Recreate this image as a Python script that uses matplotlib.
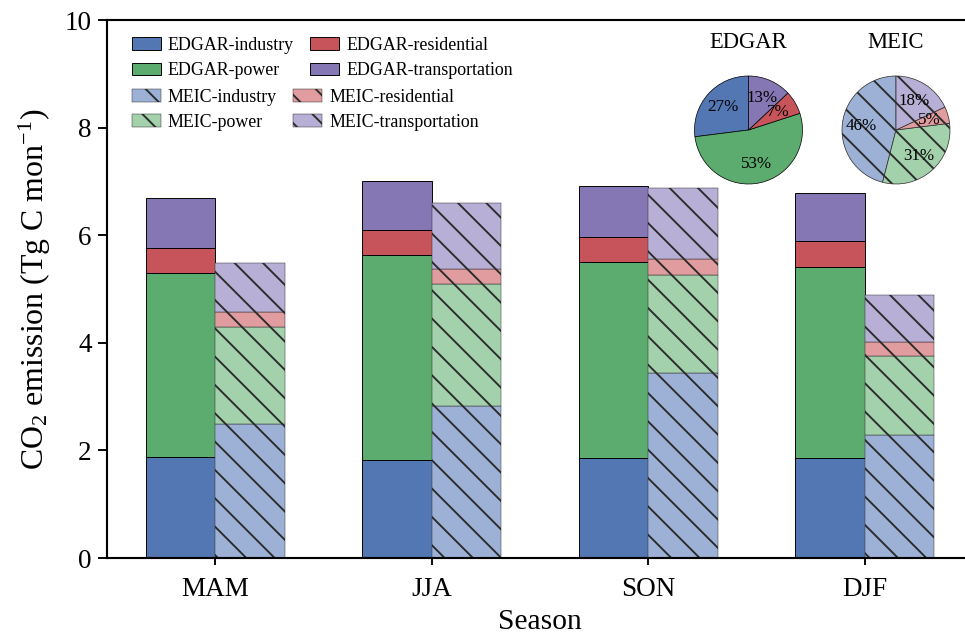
import matplotlib
matplotlib.use('Agg')
import matplotlib.pyplot as plt
import numpy as np

# seasonal CO2 emission by sector (Tg C per month)
seasons = ['MAM', 'JJA', 'SON', 'DJF']
edgar_industry = [1.88, 1.82, 1.86, 1.85]
edgar_power = [3.41, 3.81, 3.64, 3.56]
edgar_residential = [0.47, 0.46, 0.46, 0.48]
edgar_transport = [0.94, 0.92, 0.95, 0.89]
meic_industry = [2.50, 2.83, 3.43, 2.28]
meic_power = [1.79, 2.26, 1.83, 1.47]
meic_residential = [0.28, 0.28, 0.29, 0.26]
meic_transport = [0.91, 1.23, 1.32, 0.88]
# annual sector shares (%), industry / power / residential / transportation
edgar_share = [27, 53, 7, 13]
meic_share = [46, 31, 5, 18]
sectors = ['industry', 'power', 'residential', 'transportation']

plt.rcParams['font.family'] = ['Liberation Serif', 'DejaVu Serif']
plt.rcParams['mathtext.fontset'] = 'custom'
plt.rcParams['mathtext.rm'] = 'Liberation Serif'
plt.rcParams['mathtext.it'] = 'Liberation Serif:italic'
plt.rcParams['hatch.linewidth'] = 0.8

edgar_col = ['#5377B3', '#5BAC6E', '#C6545A', '#8577B4']
meic_col = ['#9DB1D6', '#A2D1AC', '#E09C9E', '#B7AFD5']
hatch_col = '#2b2b2b'

DPI = 170
W, H = 965, 635
fig = plt.figure(figsize=(W / DPI, H / DPI), dpi=DPI)
ax = fig.add_axes([107 / W, 77 / H, 866 / W, 538 / H])

x = np.arange(len(seasons))
w = 0.32
edgar = [edgar_industry, edgar_power, edgar_residential, edgar_transport]
meic = [meic_industry, meic_power, meic_residential, meic_transport]

bottom = np.zeros(len(seasons))
h_edgar = []
for vals, c, s in zip(edgar, edgar_col, sectors):
    b = ax.bar(x - w / 2, vals, w, bottom=bottom, color=c, edgecolor='black',
               linewidth=0.4, label='EDGAR-' + s)
    h_edgar.append(b)
    bottom += np.array(vals)

bottom = np.zeros(len(seasons))
h_meic = []
for vals, c, s in zip(meic, meic_col, sectors):
    b = ax.bar(x + w / 2, vals, w, bottom=bottom, color=c, edgecolor=hatch_col,
               linewidth=0.2, hatch='\\\\', label='MEIC-' + s)
    h_meic.append(b)
    bottom += np.array(vals)

ax.set_xlim(-0.5, 3.5)
ax.set_ylim(0, 10)
ax.set_xticks(x)
ax.set_xticklabels(seasons)
ax.set_yticks([0, 2, 4, 6, 8, 10])
ax.tick_params(axis='both', direction='out', width=0.8, labelsize=11.5)
ax.tick_params(axis='y', length=4, pad=2.5)
ax.tick_params(axis='x', length=3, pad=5)
for sp in ['left', 'bottom', 'top']:
    ax.spines[sp].set_linewidth(0.9)
ax.spines['right'].set_visible(False)

ax.set_xlabel('Season', fontsize=12.5)
ax.set_ylabel('CO$_2$ emission (Tg C mon$^{-1}$)', fontsize=13.5)
ax.yaxis.set_label_coords(-0.062, 0.5)
ax.xaxis.set_label_coords(0.5, -0.095)

leg_kw = dict(ncol=2, frameon=False, fontsize=7.6, handlelength=1.6, handleheight=0.7,
              handletextpad=0.4, columnspacing=0.9, labelspacing=0.47,
              borderpad=0, borderaxespad=0, loc='upper left')
leg1 = fig.legend(handles=h_edgar, bbox_to_anchor=(132 / W, 1 - 37 / H), **leg_kw)
leg2 = fig.legend(handles=h_meic, bbox_to_anchor=(132 / W, 1 - 88.5 / H), **leg_kw)

# inset pies
r = 54
for cx, cy, share, cols, name, hatched in [(748.5, 130, edgar_share, edgar_col, 'EDGAR', False),
                                           (896, 130, meic_share, meic_col, 'MEIC', True)]:
    pad = 1.05
    pax = fig.add_axes([(cx - r * pad) / W, (H - cy - r * pad) / H, 2 * r * pad / W, 2 * r * pad / H])
    wedges, texts, autotexts = pax.pie(share, colors=cols, startangle=90, counterclock=True,
                                       autopct=lambda p: '%.0f%%' % p, pctdistance=0.64,
                                       wedgeprops=dict(edgecolor='black' if not hatched else hatch_col,
                                                       linewidth=0.3),
                                       textprops=dict(fontsize=7.2, color='black'))
    if hatched:
        for wd in wedges:
            wd.set_hatch('\\\\')
    pax.set_xlim(-pad, pad)
    pax.set_ylim(-pad, pad)
    pax.set_aspect('equal')
    pax.axis('off')
    fig.text(cx / W, 1 - 42 / H, name, ha='center', va='center', fontsize=9.6)

fig.savefig('out.png', dpi=DPI)
